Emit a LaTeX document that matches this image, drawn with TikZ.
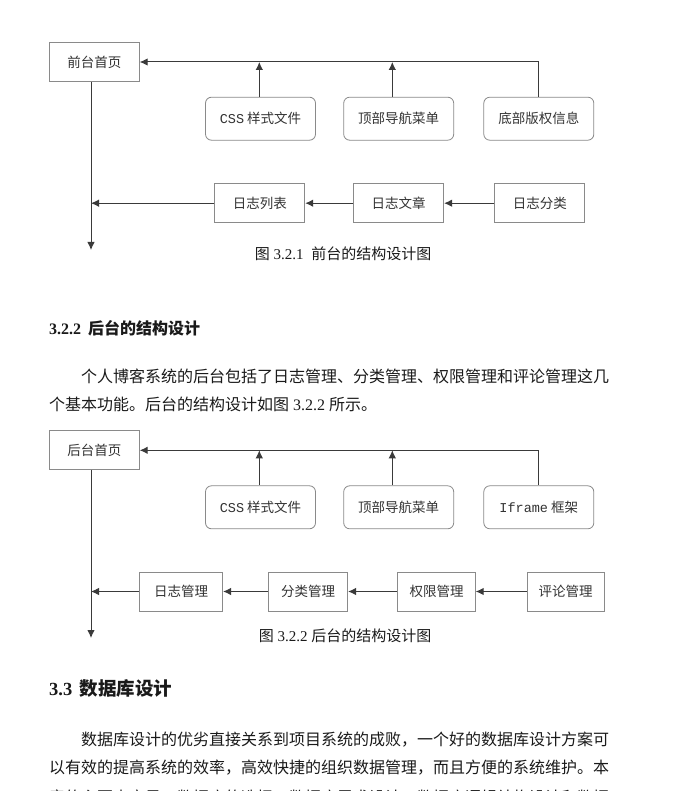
\documentclass[tikz,border=0pt]{standalone}
\usepackage{fontspec}
\setmainfont{Liberation Serif}
\newfontfamily\cjk{Noto Sans CJK SC}
\newfontfamily\monof{Liberation Mono}
\usetikzlibrary{arrows.meta}
\definecolor{boxline}{HTML}{8A8A8A}
\definecolor{conn}{HTML}{3A3A3A}
\definecolor{boxtext}{HTML}{333333}
\definecolor{bodytext}{HTML}{1A1A1A}
\tikzset{
  sqbox/.style={draw=boxline, line width=0.8pt, inner sep=0pt, minimum height=39pt, font=\fontsize{13.5}{14}\cjk, text=boxtext},
  rndbox/.style={draw=boxline, line width=0.8pt, rounded corners=6pt, inner sep=0pt, minimum width=110pt, minimum height=43pt, font=\fontsize{13.5}{14}\cjk, text=boxtext},
  conline/.style={draw=conn, line width=1pt},
  arr/.style={conline, -{Latex[length=8pt,width=7.5pt]}},
  caption/.style={font=\fontsize{15}{16}\selectfont, text=bodytext, inner sep=0pt},
  bodyline/.style={anchor=west, inner sep=0pt, font=\fontsize{16}{16}\selectfont, text=bodytext},
  headline/.style={anchor=west, inner sep=0pt, text=bodytext}
}
\begin{document}
\begin{tikzpicture}[x=1pt,y=-1pt]
\useasboundingbox[fill=white] (0,0) rectangle (688,791);

% ---------- Figure 3.2.1 ----------
\node[sqbox, minimum width=90pt] (f0) at (94.3,62) {前台首页};
\node[rndbox] (css1) at (260.5,118.7) {{\monof CSS} 样式文件};
\node[rndbox] (top1) at (398.7,118.7) {顶部导航菜单};
\node[rndbox] (bot1) at (538.8,118.7) {底部版权信息};
\node[sqbox, minimum width=90pt] (list1) at (259.8,203.2) {日志列表};
\node[sqbox, minimum width=90pt] (art1) at (398.7,203.2) {日志文章};
\node[sqbox, minimum width=90pt] (cat1) at (539.8,203.2) {日志分类};
\coordinate (v1end) at (91,250);
\coordinate (v1mid) at (91,203.2);

\draw[arr] (bot1.north) |- (f0.east);
\draw[arr] ([xshift=-1.2pt]css1.north) -- ([xshift=-1.2pt]css1.north |- f0.east);
\draw[arr] ([xshift=-6.4pt]top1.north) -- ([xshift=-6.4pt]top1.north |- f0.east);
\draw[arr] (f0.south -| v1end) -- (v1end);
\draw[arr] (list1.west) -- (v1mid);
\draw[arr] (art1.west) -- (list1.east);
\draw[arr] (cat1.west) -- (art1.east);

\node[caption] (cap1) at (343,254) {{\cjk 图} 3.2.1\hspace{4pt} {\cjk 前台的结构设计图}};

% ---------- Section 3.2.2 ----------
\node[headline, font=\fontsize{16}{16}\selectfont\bfseries] (h1) at (49,328) {3.2.2\hspace{3pt} {\cjk\bfseries 后台的结构设计}};
\node[bodyline] (p1a) at (81,376) {\cjk 个人博客系统的后台包括了日志管理、分类管理、权限管理和评论管理这几};
\node[bodyline] (p1b) at (49,404) {{\cjk 个基本功能。后台的结构设计如图} 3.2.2 {\cjk 所示。}};

% ---------- Figure 3.2.2 ----------
\node[sqbox, minimum width=90pt] (b0) at (94.3,450.3) {后台首页};
\node[rndbox] (css2) at (260.5,507.3) {{\monof CSS} 样式文件};
\node[rndbox] (top2) at (398.7,507.3) {顶部导航菜单};
\node[rndbox] (ifr2) at (538.8,507.3) {{\monof Iframe} 框架};
\node[sqbox, minimum width=83.4pt] (m1) at (181,591.5) {日志管理};
\node[sqbox, minimum width=79pt] (m2) at (308.2,591.5) {分类管理};
\node[sqbox, minimum width=77.6pt] (m3) at (436.5,591.5) {权限管理};
\node[sqbox, minimum width=77.3pt] (m4) at (565.7,591.5) {评论管理};
\coordinate (v2end) at (91,638);
\coordinate (v2mid) at (91,591.5);

\draw[arr] (ifr2.north) |- (b0.east);
\draw[arr] ([xshift=-1.2pt]css2.north) -- ([xshift=-1.2pt]css2.north |- b0.east);
\draw[arr] ([xshift=-6.4pt]top2.north) -- ([xshift=-6.4pt]top2.north |- b0.east);
\draw[arr] (b0.south -| v2end) -- (v2end);
\draw[arr] (m1.west) -- (v2mid);
\draw[arr] (m2.west) -- (m1.east);
\draw[arr] (m3.west) -- (m2.east);
\draw[arr] (m4.west) -- (m3.east);

\node[caption] (cap2) at (345,636) {{\cjk 图} 3.2.2 {\cjk 后台的结构设计图}};

% ---------- Section 3.3 ----------
\node[headline, font=\fontsize{18.5}{18}\selectfont\bfseries] (h2) at (49,688) {3.3\hspace{3pt} {\cjk\bfseries 数据库设计}};
\node[bodyline] (p2a) at (81,740) {\cjk 数据库设计的优劣直接关系到项目系统的成败，一个好的数据库设计方案可};
\node[bodyline] (p2b) at (49,768) {\cjk 以有效的提高系统的效率，高效快捷的组织数据管理，而且方便的系统维护。本};
\node[bodyline] (p2c) at (49,797) {\cjk 章的主要内容是：数据库的选择、数据库需求设计、数据库逻辑结构设计和数据};
\end{tikzpicture}
\end{document}
